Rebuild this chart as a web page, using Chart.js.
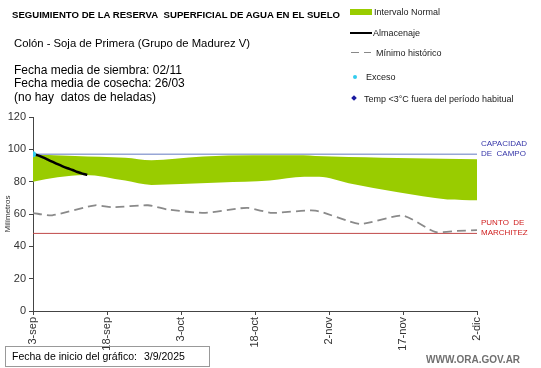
<!DOCTYPE html>
<html>
<head>
<meta charset="utf-8">
<script src="https://cdn.jsdelivr.net/npm/chart.js@4.4.1/dist/chart.umd.min.js"></script>
<style>
  html,body{margin:0;padding:0;background:#fff;}
  body{width:541px;height:368px;position:relative;overflow:hidden;font-family:"Liberation Sans",Arial,sans-serif;color:#000;}
  #wrap{position:absolute;left:0;top:0;width:541px;height:368px;}
  .t{position:absolute;white-space:nowrap;line-height:14px;height:14px;}
  .lg{position:absolute;white-space:nowrap;font-size:9px;line-height:12px;height:12px;color:#222;}
  .mk{position:absolute;}
</style>
</head>
<body>
<div id="wrap"><canvas id="chart" width="541" height="368"></canvas></div>

<!-- header texts -->
<div class="t" style="left:12px;top:8px;font-size:9.6px;font-weight:bold;">SEGUIMIENTO DE LA RESERVA&nbsp; SUPERFICIAL DE AGUA EN EL SUELO</div>
<div class="t" style="left:14px;top:36px;font-size:11.3px;">Colón - Soja de Primera (Grupo de Madurez V)</div>
<div class="t" style="left:14px;top:63px;font-size:12px;">Fecha media de siembra: 02/11</div>
<div class="t" style="left:14px;top:76px;font-size:12px;">Fecha media de cosecha: 26/03</div>
<div class="t" style="left:14px;top:90px;font-size:12px;">(no hay&nbsp; datos de heladas)</div>

<!-- legend -->
<div class="mk" style="left:350px;top:9px;width:22px;height:6px;background:#99cc00;"></div>
<div class="lg" style="left:374px;top:6px;">Intervalo Normal</div>
<div class="mk" style="left:350px;top:32px;width:22px;height:2px;background:#000;"></div>
<div class="lg" style="left:373px;top:27px;">Almacenaje</div>
<div class="mk" style="left:351px;top:52px;width:8px;height:1px;background:#888;"></div>
<div class="mk" style="left:364px;top:52px;width:7px;height:1px;background:#888;"></div>
<div class="lg" style="left:376px;top:47px;">Mínimo histórico</div>
<div class="mk" style="left:353px;top:75px;width:4px;height:4px;border-radius:2px;background:#33ccee;"></div>
<div class="lg" style="left:366px;top:71px;">Exceso</div>
<div class="mk" style="left:352px;top:96px;width:4px;height:4px;background:#1a1aa0;transform:rotate(45deg);"></div>
<div class="lg" style="left:364px;top:93px;">Temp &lt;3°C fuera del período habitual</div>

<!-- reference line labels -->
<div class="lg" style="left:481px;top:139px;color:#3535a8;line-height:10px;font-size:8px;">CAPACIDAD<br>DE&nbsp; CAMPO</div>
<div class="lg" style="left:481px;top:218px;color:#d02020;line-height:10px;font-size:8px;">PUNTO&nbsp; DE<br>MARCHITEZ</div>

<!-- footer -->
<div style="position:absolute;left:5px;top:346px;width:203px;height:19px;border:1px solid #999;"></div>
<div class="t" style="left:12px;top:349px;font-size:10.5px;">Fecha de inicio del gráfico:</div>
<div class="t" style="left:144px;top:349px;font-size:10.5px;">3/9/2025</div>
<div class="t" style="left:426px;top:353px;font-size:10px;font-weight:bold;color:#707070;">WWW.ORA.GOV.AR</div>

<script>
// x is days since 3-sep
const tickLabels = ['3-sep','18-sep','3-oct','18-oct','2-nov','17-nov','2-dic'];

const bandUpperDays = [0, 8.5, 18.7, 24, 28.8, 34.5, 44.6, 54.8, 57.2, 70.8, 83, 90];
const bandUpper     = [97, 95.9, 94.8, 93.3, 94.2, 95.5, 96.3, 96.3, 95.8, 94.8, 94.2, 93.8];
const bandLowerDays = [0, 5, 10.5, 18.7, 24, 30, 38, 48, 55, 58, 64, 74, 84, 90];
const bandLower     = [80, 82.8, 84.2, 80.7, 78, 78.6, 79.5, 80.7, 83, 83, 79, 73.4, 69, 68.5];

const storage = [97, 96.3, 95, 93.6, 92.2, 90.8, 89.5, 88.3, 87.2, 86, 85, 84.2];

const minDays = [0, 3.9, 12.6, 16, 23.3, 27.4, 34.9, 41.6, 43.6, 48.5, 57.2, 66.3, 75, 81.5, 86, 90];
const minHist = [60.6, 59.2, 65.4, 64.2, 65.4, 62.7, 60.7, 63.4, 63.8, 60.7, 62.1, 53.9, 59, 48.9, 49.5, 50];

const excesoDays = [0];
const exceso     = [97];

const fieldCapacity = 97;
const wiltingPoint  = 48;

const pts = (xs, ys) => xs.map((x, i) => ({ x: x, y: ys[i] }));

new Chart(document.getElementById('chart'), {
  type: 'line',
  data: {
    datasets: [
      { data: pts(excesoDays, exceso), showLine: false, pointRadius: 3, pointBackgroundColor: '#33ccee', pointBorderWidth: 0 },
      { data: storage.map((v, i) => ({ x: i, y: v })), borderColor: '#000', borderWidth: 2.5, pointRadius: 0, tension: 0.3 },
      { data: pts(minDays, minHist), borderColor: '#8a8a8a', borderWidth: 1.8, borderDash: [9, 5], pointRadius: 0, tension: 0.2 },
      { data: [{ x: 0, y: fieldCapacity }, { x: 90, y: fieldCapacity }], borderColor: '#97a6d6', borderWidth: 1.5, pointRadius: 0 },
      { data: [{ x: 0, y: wiltingPoint }, { x: 90, y: wiltingPoint }], borderColor: '#c04848', borderWidth: 1, pointRadius: 0 },
      { data: pts(bandUpperDays, bandUpper), borderWidth: 0, borderColor: '#99cc00', backgroundColor: '#99cc00', pointRadius: 0, tension: 0.4, cubicInterpolationMode: 'monotone', fill: '+1' },
      { data: pts(bandLowerDays, bandLower), borderWidth: 0, borderColor: '#99cc00', pointRadius: 0, tension: 0.4, cubicInterpolationMode: 'monotone', fill: false }
    ]
  },
  options: {
    responsive: false,
    animation: false,
    layout: { padding: { left: 0, right: 64, top: 117, bottom: 0 } },
    plugins: { legend: { display: false }, tooltip: { enabled: false } },
    scales: {
      x: {
        type: 'linear', min: 0, max: 90,
        grid: { drawOnChartArea: false, drawTicks: true, tickLength: 4, color: '#444' },
        border: { color: '#444', width: 1 },
        ticks: {
          stepSize: 15, minRotation: 90, maxRotation: 90, padding: 2,
          color: '#333', font: { family: 'Liberation Sans', size: 11 },
          callback: v => tickLabels[v / 15]
        },
        afterFit: s => { s.height = 57; }
      },
      y: {
        min: 0, max: 120,
        grid: { drawOnChartArea: false, drawTicks: true, tickLength: 4, color: '#444' },
        border: { color: '#444', width: 1 },
        ticks: { stepSize: 20, padding: 3, color: '#333', font: { family: 'Liberation Sans', size: 11 } },
        title: { display: true, text: 'Milímetros', color: '#333', padding: { top: 3, bottom: 0 }, font: { family: 'Liberation Sans', size: 8 } },
        afterFit: s => { s.width = 33; }
      }
    }
  }
});
</script>
</body>
</html>
